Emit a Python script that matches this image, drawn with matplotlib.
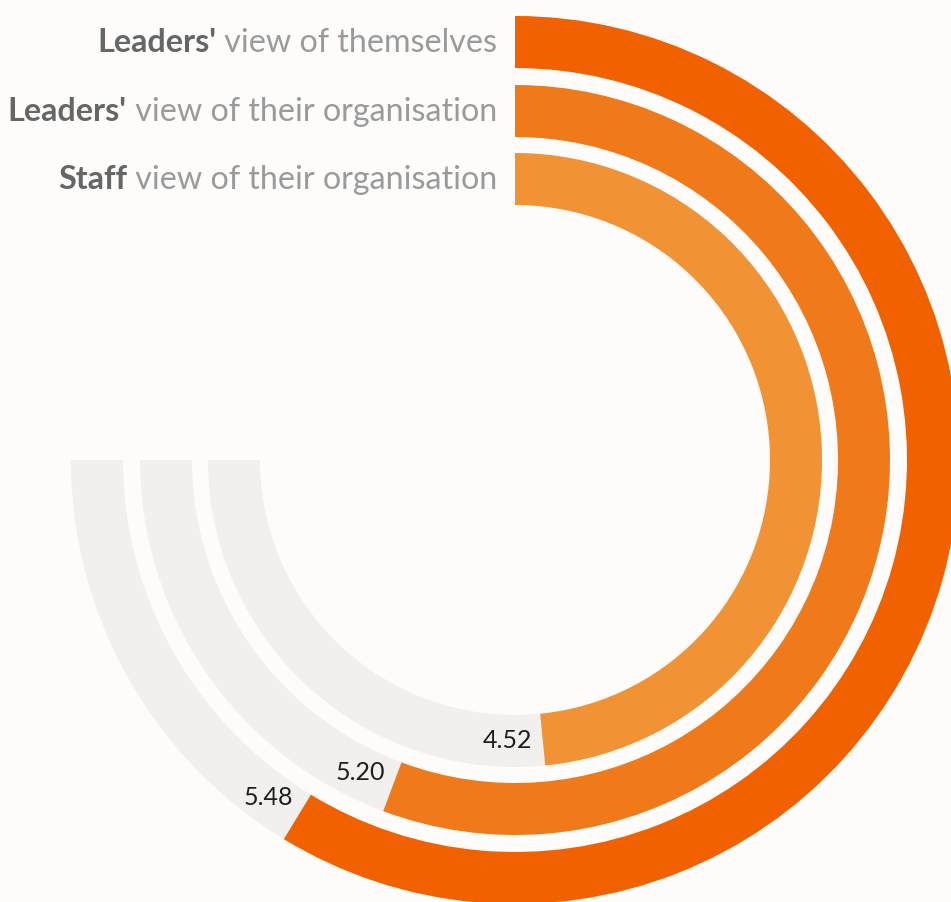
import numpy as np
import matplotlib
matplotlib.use("Agg")
from matplotlib import pyplot as plt

# survey scores on a 1-7 scale, outermost ring first
bold_parts = ["Leaders'", "Leaders'", "Staff"]
rest_parts = [" view of themselves", " view of their organisation", " view of their organisation"]
scores = [5.48, 5.20, 4.52]
scale_max = 7.0
colors = ["#F26100", "#F07A1A", "#F19334"]

W, H = 951, 902
DPI = 100
bg = "#FDFCFB"
track = "#F1F0EF"

# ring geometry in pixels (radius from centre)
cx, cy = 515, 460
ring_outer = [444, 375, 307]
ring_w = 52
rmax = 450
sweep = 1.5 * np.pi  # full track covers 270 degrees

fig = plt.figure(figsize=(W / DPI, H / DPI), dpi=DPI, facecolor=bg)
ax = fig.add_axes([(cx - rmax) / W, (H - cy - rmax) / H, 2 * rmax / W, 2 * rmax / H],
                  projection="polar")
ax.set_facecolor(bg)
ax.patch.set_alpha(0)
ax.set_theta_zero_location("N")
ax.set_theta_direction(-1)
ax.set_ylim(0, rmax)
ax.set_axis_off()

for r_out, val, col in zip(ring_outer, scores, colors):
    r_in = r_out - ring_w
    ax.bar(0, ring_w, width=sweep, bottom=r_in, align="edge", color=track, linewidth=0)
    span = val / scale_max * sweep
    ax.bar(0, ring_w, width=span, bottom=r_in, align="edge", color=col, linewidth=0)
    # value label sits just past the end of the bar, on the ring midline
    r_mid = r_in + ring_w / 2
    ax.text(span + 35 / r_mid, r_mid, f"{val:.2f}", ha="center", va="center",
            fontsize=18, family="Lato", color="#1E1E1E")

# two-tone labels, right aligned against the start of each ring
fig.canvas.draw()
renderer = fig.canvas.get_renderer()
for r_out, b, rest in zip(ring_outer, bold_parts, rest_parts):
    base_y = 1 - (cy - r_out + ring_w / 2 + 10) / H
    t = fig.text(497 / W, base_y, rest, ha="right", va="baseline",
                 fontsize=23.2, family="Lato", color="#9A9A9A")
    bb = t.get_window_extent(renderer)
    fig.text(bb.x0 / W, base_y, b, ha="right", va="baseline",
             fontsize=23.2, family="Lato", fontweight="bold", color="#666666")

fig.savefig("out.png", dpi=DPI, facecolor=bg)
